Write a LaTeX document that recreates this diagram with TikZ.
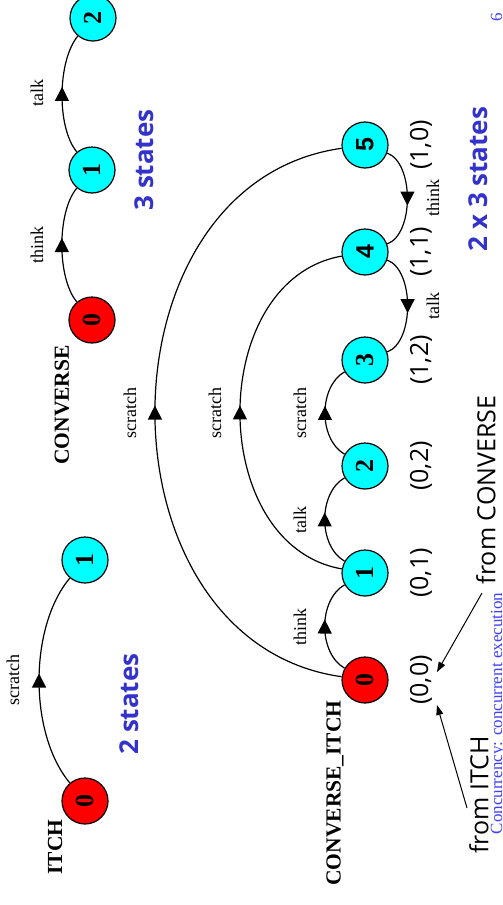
\documentclass[tikz,border=0pt]{standalone}
\usepackage{fontspec}
\usepackage{graphicx}
\setmainfont{Liberation Serif}
\newfontfamily\comicf{Open Sans}
\newfontfamily\arialf{Liberation Sans}
\usetikzlibrary{arrows.meta,decorations.markings}
\definecolor{stateblue}{RGB}{51,51,204}
\definecolor{footblue}{RGB}{64,64,255}
\definecolor{sred}{RGB}{255,0,0}
\definecolor{scyan}{RGB}{0,255,255}
\newcommand{\rot}[1]{\rotatebox{90}{#1}}
\begin{document}
\begin{tikzpicture}[x=1pt,y=1pt,
  st/.style={circle,draw=black,line width=1.2pt,minimum size=46pt,inner sep=0pt,font=\fontsize{26}{26}\selectfont\bfseries},
  init/.style={st,fill=sred},
  other/.style={st,fill=scyan},
  act/.style={rotate=90,font=\fontsize{18}{18}\selectfont,inner sep=0pt},
  pname/.style={rotate=90,font=\fontsize{21.5}{21.5}\selectfont\bfseries,inner sep=0pt},
  count/.style={rotate=90,font=\comicf\bfseries\fontsize{26}{26}\selectfont,text=stateblue,inner sep=0pt},
  pair/.style={rotate=90,font=\comicf\fontsize{25}{25}\selectfont,inner sep=0pt},
  trans/.style={line width=1.2pt,postaction={decorate},
    decoration={markings,mark=at position 0.5 with {\pgftransformxshift{7pt}\arrow{Triangle[length=14pt,width=14pt]}}}},
  pointer/.style={line width=1pt,-{Triangle[length=10pt,width=7pt]}},
  foot/.style={rotate=90,anchor=base,font=\fontsize{17}{17}\selectfont,text=footblue,inner sep=0pt}
]
\useasboundingbox (0,0) rectangle (503,-905);
\fill[white] (0,0) rectangle (503,-905);

% ITCH
\node[init] (i0) at (85,-801) {\rot{0}};
\node[other] (i1) at (85,-560) {\rot{1}};
\draw[trans] (i0) to[out=130,in=230,looseness=0.8] (i1);
\node[act] (li0) at (13,-680) {scratch};
\node[pname] (itch) at (55,-847) {ITCH};
\node[count] (two) at (129,-704) {2 states};

% CONVERSE
\node[init] (c0) at (92,-320) {\rot{0}};
\node[other] (c1) at (92,-170) {\rot{1}};
\node[other] (c2) at (93,-18) {\rot{2}};
\draw[trans] (c0) to[out=130,in=230,looseness=0.7] (c1);
\draw[trans] (c1) to[out=130,in=230,looseness=0.7] (c2);
\node[act] (lc0) at (37,-245) {think};
\node[act] (lc1) at (37,-93) {talk};
\node[pname] (conv) at (62,-405) {CONVERSE};
\node[count] (three) at (144,-160) {3 states};

% CONVERSE_ITCH
\node[init] (n0) at (365,-680) {\rot{0}};
\node[other] (n1) at (365,-573) {\rot{1}};
\node[other] (n2) at (365,-466) {\rot{2}};
\node[other] (n3) at (365,-360) {\rot{3}};
\node[other,font=\arialf\fontsize{25}{25}\selectfont\bfseries] (n4) at (365,-252) {\rot{4}};
\node[other,font=\arialf\fontsize{25}{25}\selectfont\bfseries] (n5) at (365,-145) {\rot{5}};

\draw[trans] (n0) to[out=150,in=210,looseness=0.94] (n1);
\draw[trans] (n1) to[out=150,in=210,looseness=0.94] (n2);
\draw[trans] (n2) to[out=150,in=210,looseness=0.94] (n3);
\draw[trans] (n5) to[out=-20,in=20,looseness=0.81] (n4);
\draw[trans] (n4) to[out=-20,in=20,looseness=0.81] (n3);
\draw[trans] (n1) to[out=170,in=190,looseness=1.13] (n4);
\draw[trans] (n0) to[out=172,in=188,looseness=1.22] (n5);

\node[act] (t01) at (300,-627) {think};
\node[act] (t12) at (300,-520) {talk};
\node[act] (t23) at (300,-413) {scratch};
\node[act] (t14) at (215,-413) {scratch};
\node[act] (t05) at (130,-413) {scratch};
\node[act] (t54) at (433,-198) {think};
\node[act] (t43) at (433,-306) {talk};

\node[pname] (ci) at (335,-793) {CONVERSE\_ITCH};

\node[pair] (p0) at (421,-680) {(0,0)};
\node[pair] (p1) at (421,-573) {(0,1)};
\node[pair] (p2) at (421,-466) {(0,2)};
\node[pair] (p3) at (421,-360) {(1,2)};
\node[pair] (p4) at (421,-252) {(1,1)};
\node[pair] (p5) at (421,-145) {(1,0)};

\node[count] (six) at (478,-179) {2 x 3 states};
\node[pair] (fromc) at (486,-490) {from CONVERSE};
\node[pair] (fromi) at (479,-795) {from ITCH};

\coordinate (fiS) at (467,-808);
\coordinate (fiE) at (437,-705);
\coordinate (fcS) at (482,-593);
\coordinate (fcE) at (437,-672);
\draw[pointer] (fiS) -- (fiE);
\draw[pointer] (fcS) -- (fcE);

\node[foot] (footer) at (502,-713.5) {Concurrency: concurrent execution};
\node[foot] (page) at (502,-17) {6};
\end{tikzpicture}
\end{document}
